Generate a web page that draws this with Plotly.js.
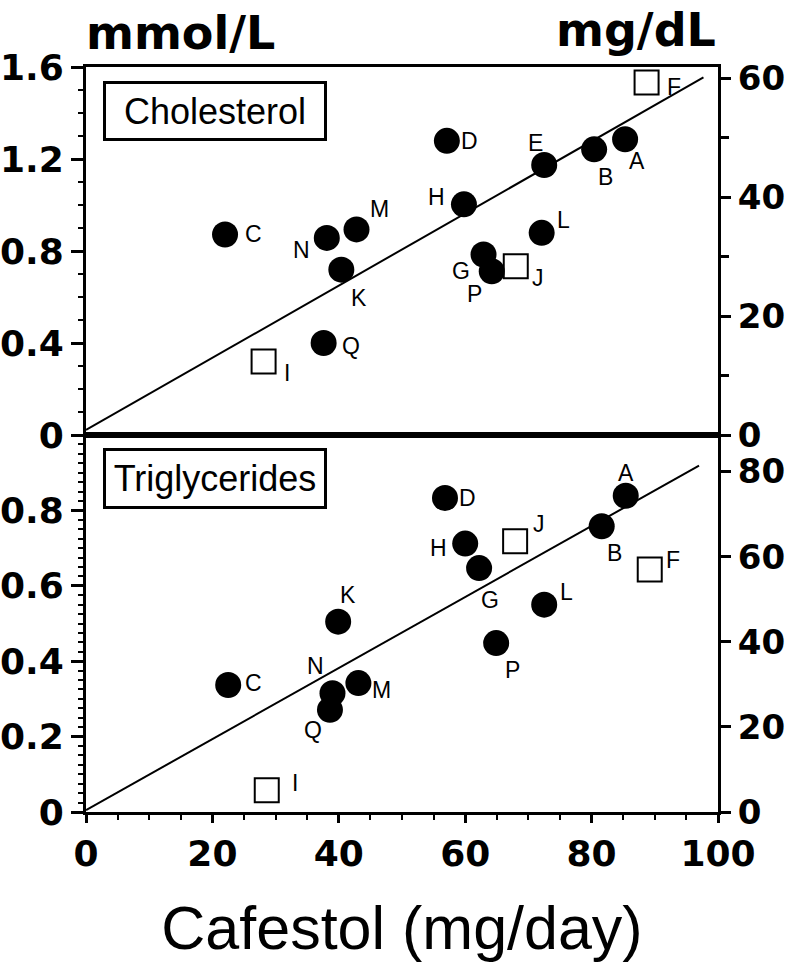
<!DOCTYPE html>
<html>
<head>
<meta charset="utf-8">
<script src="https://cdn.plot.ly/plotly-3.0.1.min.js"></script>
<style>
  html, body { margin: 0; padding: 0; background: #fff; }
  #chart { width: 789px; height: 962px; }
</style>
</head>
<body>
<div id="chart"></div>
<script>
// Serum lipid response versus cafestol intake, per subject (A–Q).
// Filled circles = filled group, open squares = open group.

// ---- Cholesterol panel ----
const cholSubjects = ['A', 'B', 'C', 'D', 'E', 'G', 'H', 'K', 'L', 'M', 'N', 'P', 'Q'];
const cholDose     = [85.3, 80.4, 22.0, 57.1, 72.5, 62.9, 59.8, 40.4, 72.1, 42.8, 38.1, 64.2, 37.6];
const cholRise     = [1.286, 1.242, 0.872, 1.279, 1.174, 0.785, 1.003, 0.719, 0.879, 0.894, 0.857, 0.712, 0.40];

const cholOpenSubjects = ['F', 'I', 'J'];
const cholOpenDose     = [88.7, 28.1, 68.0];
const cholOpenRise     = [1.533, 0.32, 0.734];

const cholFitDose = [0, 97.7];
const cholFitRise = [0.022, 1.555];

// ---- Triglycerides panel ----
const trigSubjects = ['A', 'B', 'C', 'D', 'G', 'H', 'K', 'L', 'M', 'N', 'P', 'Q'];
const trigDose     = [85.4, 81.6, 22.5, 56.8, 62.2, 60.0, 39.9, 72.5, 43.1, 39.0, 64.9, 38.6];
const trigRise     = [0.839, 0.758, 0.337, 0.833, 0.647, 0.712, 0.505, 0.550, 0.342, 0.315, 0.448, 0.271];

const trigOpenSubjects = ['F', 'I', 'J'];
const trigOpenDose     = [89.2, 28.6, 67.9];
const trigOpenRise     = [0.643, 0.058, 0.718];

const trigFitDose = [0, 97.0];
const trigFitRise = [0.005, 0.919];

// Tick spacing
const doseStep = 20;
const cholMmolStep = 0.4;
const cholMgStep = 20;
const trigMmolStep = 0.2;
const trigMgStep = 20;

// mmol/L -> mg/dL conversion factors
const CHOL_MG_PER_MMOL = 38.67;
const TRIG_MG_PER_MMOL = 88.57;

// label placement around each marker, [dx, dy] in px (dy downward)
const cholLabelOffset = {
  A: [12, 22], B: [11, 28], C: [28, 0], D: [23, 0], E: [-9, -22], F: [27, 5],
  G: [-23, 17], H: [-27, -7], I: [23, 12], J: [22, 12], K: [18, 28], L: [22, -13],
  M: [23, -20], N: [-25, 12], P: [-17, 23], Q: [27, 3]
};
const trigLabelOffset = {
  A: [0, -23], B: [13, 27], C: [25, -2], D: [23, 0], F: [23, -10], G: [11, 32],
  H: [-27, 4], I: [28, -7], J: [24, -17], K: [10, -27], L: [22, -13], M: [23, 7],
  N: [-17, -27], P: [16, 27], Q: [-17, 20]
};

const black = '#000';
const tickFont = { family: 'DejaVu Sans', size: 36, weight: 700, color: black };

const filledMarker = { symbol: 'circle', size: 26, color: black, line: { width: 0 } };
const openMarker = { symbol: 'square-open', size: 24, color: black, line: { width: 2, color: black } };

const traces = [
  // cholesterol (top): xaxis2 / yaxis2
  { x: cholFitDose, y: cholFitRise, xaxis: 'x2', yaxis: 'y2', mode: 'lines',
    line: { color: black, width: 2 }, hoverinfo: 'skip' },
  { x: cholDose, y: cholRise, text: cholSubjects, xaxis: 'x2', yaxis: 'y2', mode: 'markers',
    marker: filledMarker },
  { x: cholOpenDose, y: cholOpenRise, text: cholOpenSubjects, xaxis: 'x2', yaxis: 'y2', mode: 'markers',
    marker: openMarker },
  // triglycerides (bottom): xaxis / yaxis
  { x: trigFitDose, y: trigFitRise, xaxis: 'x', yaxis: 'y', mode: 'lines',
    line: { color: black, width: 2 }, hoverinfo: 'skip' },
  { x: trigDose, y: trigRise, text: trigSubjects, xaxis: 'x', yaxis: 'y', mode: 'markers',
    marker: filledMarker },
  { x: trigOpenDose, y: trigOpenRise, text: trigOpenSubjects, xaxis: 'x', yaxis: 'y', mode: 'markers',
    marker: openMarker },
  // invisible traces that activate the mg/dL axes
  { x: [0], y: [0], xaxis: 'x2', yaxis: 'y3', mode: 'markers', marker: { opacity: 0 }, hoverinfo: 'skip' },
  { x: [0], y: [0], xaxis: 'x', yaxis: 'y4', mode: 'markers', marker: { opacity: 0 }, hoverinfo: 'skip' }
];

function subjectLabels(names, xs, ys, offsets, xref, yref) {
  return names.map((name, i) => ({
    text: name, x: xs[i], y: ys[i], xref: xref, yref: yref,
    xshift: offsets[name][0], yshift: -offsets[name][1],
    showarrow: false, xanchor: 'center', yanchor: 'middle',
    font: { family: 'Liberation Sans', size: 23, color: black }
  }));
}

const annotations = [].concat(
  subjectLabels(cholSubjects, cholDose, cholRise, cholLabelOffset, 'x2', 'y2'),
  subjectLabels(cholOpenSubjects, cholOpenDose, cholOpenRise, cholLabelOffset, 'x2', 'y2'),
  subjectLabels(trigSubjects, trigDose, trigRise, trigLabelOffset, 'x', 'y'),
  subjectLabels(trigOpenSubjects, trigOpenDose, trigOpenRise, trigLabelOffset, 'x', 'y'),
  [
    { text: 'Cholesterol', xref: 'paper', yref: 'paper', x: 0.204, y: 0.9416,
      xanchor: 'center', yanchor: 'middle', showarrow: false,
      width: 218, height: 54, borderpad: 0, bordercolor: black, borderwidth: 3, bgcolor: '#fff',
      font: { family: 'Liberation Sans', size: 36, color: black } },
    { text: 'Triglycerides', xref: 'paper', yref: 'paper', x: 0.204, y: 0.4476,
      xanchor: 'center', yanchor: 'middle', showarrow: false,
      width: 218, height: 55, borderpad: 0, bordercolor: black, borderwidth: 3, bgcolor: '#fff',
      font: { family: 'Liberation Sans', size: 36, color: black } },
    { text: 'mmol/L', xref: 'paper', yref: 'paper', x: -0.003, y: 1.0457,
      xanchor: 'left', yanchor: 'middle', showarrow: false,
      font: { family: 'DejaVu Sans', size: 46, weight: 700, color: black } },
    { text: 'mg/dL', xref: 'paper', yref: 'paper', x: 1.0, y: 1.049,
      xanchor: 'right', yanchor: 'middle', showarrow: false,
      font: { family: 'DejaVu Sans', size: 46, weight: 700, color: black } }
  ]
);

const axisLine = { showline: true, linecolor: black, linewidth: 3, zeroline: false, showgrid: false };

function majorTicks(step, len) {
  return { tickmode: 'linear', tick0: 0, dtick: step, ticks: 'outside',
    ticklen: len, tickwidth: 3, tickcolor: black };
}
function minorTicks(step, len, width) {
  return { tickmode: 'linear', tick0: 0, dtick: step, ticks: 'outside',
    ticklen: len, tickwidth: width, tickcolor: black, showgrid: false };
}

const layout = {
  width: 789, height: 962,
  margin: { l: 86, r: 71, t: 67, b: 150, pad: 0 },
  paper_bgcolor: '#fff', plot_bgcolor: '#fff',
  showlegend: false,
  annotations: annotations,
  xaxis: Object.assign({}, axisLine, majorTicks(doseStep, 8), {
    domain: [0, 1], anchor: 'y', range: [0, 100], mirror: true,
    minor: minorTicks(5, 5, 2),
    tickfont: tickFont,
    title: { text: 'Cafestol (mg/day)', standoff: 34,
      font: { family: 'Liberation Sans', size: 61, color: black } }
  }),
  xaxis2: Object.assign({}, axisLine, {
    domain: [0, 1], anchor: 'y2', range: [0, 100], mirror: true,
    showticklabels: false, ticks: ''
  }),
  yaxis: Object.assign({}, axisLine, majorTicks(trigMmolStep, 12), {
    domain: [0, 0.506], anchor: 'x', range: [0, 1.0],
    labelalias: { '1': ' ', '1.0': ' ' },
    minor: minorTicks(0.025, 5, 2),
    tickfont: tickFont
  }),
  yaxis2: Object.assign({}, axisLine, majorTicks(cholMmolStep, 12), {
    domain: [0.506, 1], anchor: 'x2', range: [0, 1.6],
    minor: minorTicks(0.1, 5, 2),
    tickfont: tickFont
  }),
  yaxis3: Object.assign({}, axisLine, majorTicks(cholMgStep, 10), {
    overlaying: 'y2', side: 'right', anchor: 'x2', range: [0, 1.6 * CHOL_MG_PER_MMOL],
    minor: minorTicks(10, 8, 3),
    tickfont: Object.assign({}, tickFont, { size: 34 })
  }),
  yaxis4: Object.assign({}, axisLine, majorTicks(trigMgStep, 10), {
    overlaying: 'y', side: 'right', anchor: 'x', range: [0, 1.0 * TRIG_MG_PER_MMOL],
    tickfont: Object.assign({}, tickFont, { size: 34 })
  })
};

Plotly.newPlot('chart', traces, layout, { staticPlot: true, displayModeBar: false });
</script>
</body>
</html>
